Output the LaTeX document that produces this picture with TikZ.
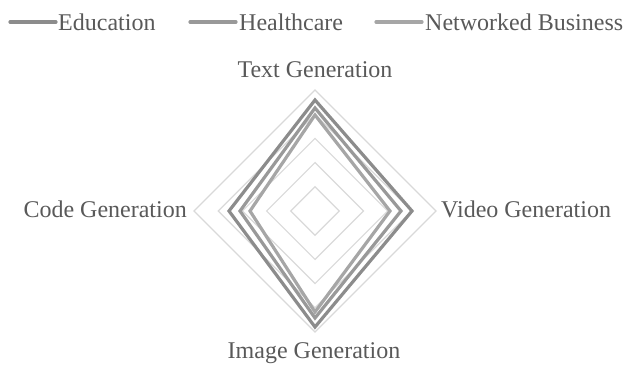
\documentclass[tikz,border=0pt]{standalone}
\usepackage{fontspec}
\setmainfont{Liberation Serif}
\usetikzlibrary{calc}
\definecolor{labelgray}{HTML}{595959}
\definecolor{gridgray}{HTML}{D9D9D9}
\definecolor{eduline}{HTML}{8C8C8C}
\definecolor{healthline}{HTML}{999999}
\definecolor{netline}{HTML}{A6A6A6}
\begin{document}
\begin{tikzpicture}[x=1pt,y=-1pt,
  lbl/.style={text=labelgray,inner sep=0pt,font=\fontsize{24}{28}\selectfont},
  ring/.style={draw=gridgray,line width=1.2pt},
  series/.style={line width=3.2pt,line join=miter},
  legline/.style={line width=3.2pt,line cap=round}]
\useasboundingbox (0,0) rectangle (627,366);
\coordinate (c) at (315,211);

% concentric grid diamonds, five levels
\foreach \r in {24.2,48.4,72.6,96.8,121}{
  \draw[ring] ($(c)+(0,-\r)$) -- ($(c)+(\r,0)$) -- ($(c)+(0,\r)$) -- ($(c)+(-\r,0)$) -- cycle;
}

% data series: top, right, bottom, left radii
\draw[series,draw=eduline] ($(c)+(0,-111)$) -- ($(c)+(97,0)$) -- ($(c)+(0,116)$) -- ($(c)+(-86,0)$) -- cycle;
\draw[series,draw=healthline] ($(c)+(0,-103)$) -- ($(c)+(86,0)$) -- ($(c)+(0,107)$) -- ($(c)+(-75,0)$) -- cycle;
\draw[series,draw=netline] ($(c)+(0,-96)$) -- ($(c)+(75,0)$) -- ($(c)+(0,101)$) -- ($(c)+(-65,0)$) -- cycle;

% axis labels
\node[lbl,anchor=base] (ttext) at (315,78) {Text Generation};
\node[lbl,anchor=base east] (tcode) at (187,218) {Code Generation};
\node[lbl,anchor=base west] (tvideo) at (441,218) {Video Generation};
\node[lbl,anchor=base] (timage) at (314,358) {Image Generation};

% legend
\coordinate (l1a) at (10,22); \coordinate (l1b) at (56,22);
\coordinate (l2a) at (190,22); \coordinate (l2b) at (236,22);
\coordinate (l3a) at (376,22); \coordinate (l3b) at (422,22);
\draw[legline,draw=eduline] (l1a) -- (l1b);
\draw[legline,draw=healthline] (l2a) -- (l2b);
\draw[legline,draw=netline] (l3a) -- (l3b);
\node[lbl,anchor=base west] (ledu) at (58,31) {Education};
\node[lbl,anchor=base west] (lhealth) at (239,31) {Healthcare};
\node[lbl,anchor=base west] (lnet) at (425,31) {Networked Business};
\end{tikzpicture}
\end{document}
